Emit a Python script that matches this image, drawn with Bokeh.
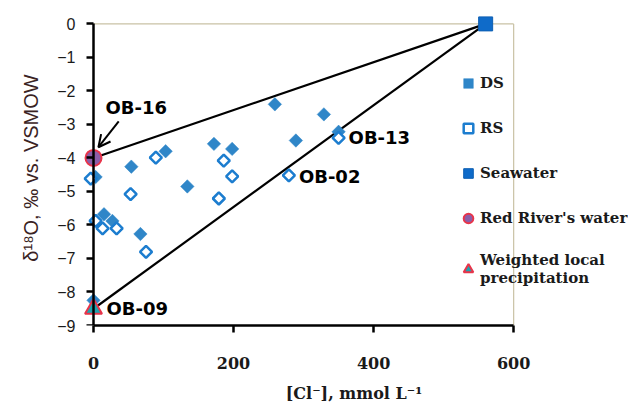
from bokeh.plotting import figure
from bokeh.models import Range1d, Legend, LegendItem, Arrow, OpenHead, Label, FixedTicker, LinearAxis
from bokeh.embed import file_html
from bokeh.resources import INLINE
import math

# ---- data ----
ds_cl = [3, 54, 103, 134, 172, 198, 259, 289, 329, 350, 15, 27, 67, 0]
ds_o18 = [-4.57, -4.26, -3.80, -4.85, -3.58, -3.73, -2.40, -3.48, -2.70, -3.22, -5.68, -5.88, -6.27, -8.25]

rs_cl = [-4, 89, 53, 3, 13, 33, 75, 186, 198, 179, 279, 350]
rs_o18 = [-4.62, -3.99, -5.08, -5.88, -6.10, -6.10, -6.80, -4.08, -4.55, -5.21, -4.52, -3.40]

sea_cl = [560]
sea_o18 = [0.0]
river_cl = [0]
river_o18 = [-4.0]
rain_cl = [0]
rain_o18 = [-8.5]

x_ticks = [0, 200, 400, 600]
y_ticks = [0, -1, -2, -3, -4, -5, -6, -7, -8, -9]

labels = ["OB-16", "OB-13", "OB-02", "OB-09"]
label_cl = [0, 350, 279, 0]
label_o18 = [-4.0, -3.3, -4.52, -8.5]

# ---- figure ----
p = figure(width=628, height=405, x_range=Range1d(-20, 764), y_range=Range1d(-9, 0.4),
           output_backend="svg", toolbar_location=None,
           min_border_left=79, min_border_right=0, min_border_top=10, min_border_bottom=78)
p.background_fill_color = "white"
p.border_fill_color = "white"
p.outline_line_color = None
p.xgrid.visible = False
p.ygrid.visible = False

for ax in (p.xaxis[0], p.yaxis[0]):
    ax.axis_line_color = "black"
    ax.axis_line_width = 2.5
    ax.major_tick_line_color = "black"
    ax.major_tick_line_width = 2.5
    ax.major_tick_out = 7
    ax.major_tick_in = 0
    ax.minor_tick_line_color = None

p.xaxis.ticker = FixedTicker(ticks=x_ticks)
p.xaxis.bounds = (min(x_ticks), max(x_ticks))

# y axis line + ticks sit at Cl = 0 (inside the frame so markers at 0 are not clipped)
yax = p.yaxis[0]
yax.ticker = FixedTicker(ticks=y_ticks)
yax.bounds = (min(y_ticks), max(y_ticks))
yax.fixed_location = 0
yax.major_label_text_font_size = "0px"
yax.major_label_text_color = None
yax.major_label_standoff = 0

# second left axis carries the tick labels and title
ylab = LinearAxis(ticker=FixedTicker(ticks=y_ticks))
ylab.axis_line_color = None
ylab.major_tick_line_color = None
ylab.minor_tick_line_color = None
ylab.major_tick_out = 0
ylab.major_tick_in = 0
ylab.major_label_text_font = "Liberation Sans"
ylab.major_label_text_font_size = "16px"
ylab.major_label_text_color = "#1a1a1a"
ylab.major_label_standoff = 4
ylab.axis_label = "\u03b4\u00b9\u2078O, \u2030 vs. VSMOW"
ylab.axis_label_text_font = "Liberation Sans"
ylab.axis_label_text_font_style = "normal"
ylab.axis_label_text_font_size = "20px"
ylab.axis_label_text_color = "#3a2323"
ylab.axis_label_standoff = 12
p.add_layout(ylab, "left")

p.xaxis.major_label_text_font = "DejaVu Serif"
p.xaxis.major_label_text_font_style = "bold"
p.xaxis.major_label_text_font_size = "16px"
p.xaxis.major_label_text_color = "#1a1a1a"
p.xaxis.major_label_standoff = 24
p.xaxis.axis_label = "[Cl\u207b], mmol L\u207b\u00b9"
p.xaxis.axis_label_text_font = "DejaVu Serif"
p.xaxis.axis_label_text_font_style = "bold"
p.xaxis.axis_label_text_font_size = "16px"
p.xaxis.axis_label_text_color = "#1a1a1a"
p.xaxis.axis_label_standoff = 12

# plot frame (top and right edges)
frame_col = "#c9c2a5"
p.line([min(x_ticks), max(x_ticks)], [max(y_ticks), max(y_ticks)], line_color=frame_col, line_width=1.2)
p.line([max(x_ticks), max(x_ticks)], [min(y_ticks), max(y_ticks)], line_color=frame_col, line_width=1.2)

# mixing lines
p.line([river_cl[0], sea_cl[0]], [river_o18[0], sea_o18[0]], line_color="black", line_width=2.2)
p.line([rain_cl[0], sea_cl[0]], [rain_o18[0], sea_o18[0]], line_color="black", line_width=2.2)

r_ds = p.scatter(ds_cl, ds_o18, marker="square", size=9.5, angle=math.pi / 4,
                 fill_color="#2f86c8", line_color="#2f86c8", line_width=0.5)
r_rs = p.scatter(rs_cl, rs_o18, marker="square", size=8.5, angle=math.pi / 4,
                 fill_color="white", line_color="#1c7dcf", line_width=2.5)
r_sea = p.scatter(sea_cl, sea_o18, marker="square", size=14,
                  fill_color="#0f6bc9", line_color="#0d5fb3", line_width=1)
r_riv = p.scatter(river_cl, river_o18, marker="circle", size=16,
                  fill_color="#8b5ea8", line_color="#e8344a", line_width=2)
r_rain = p.scatter(rain_cl, rain_o18, marker="triangle", size=17,
                   fill_color="#1fa3b0", line_color="#e8344a", line_width=2)

# labels
offsets = [(12, 50), (10, -3), (10, -1), (13, 0)]
for t, xv, yv, (dx, dy) in zip(labels, label_cl, label_o18, offsets):
    p.add_layout(Label(x=xv, y=yv, x_offset=dx, y_offset=dy, text=t,
                       text_font="DejaVu Sans", text_font_style="bold",
                       text_font_size="18px", text_color="black",
                       text_baseline="middle", text_align="left"))

p.add_layout(Arrow(end=OpenHead(size=12, line_width=2, line_color="black"),
                   x_start=36, y_start=-2.91, x_end=7, y_end=-3.68,
                   line_width=2, line_color="black"))

legend = Legend(items=[
    LegendItem(label="DS", renderers=[r_ds]),
    LegendItem(label="RS", renderers=[r_rs]),
    LegendItem(label="Seawater", renderers=[r_sea]),
    LegendItem(label="Red River's water", renderers=[r_riv]),
    LegendItem(label="Weighted local\nprecipitation", renderers=[r_rain]),
], location=(377, 38))
legend.background_fill_alpha = 0
legend.border_line_color = None
legend.padding = 0
legend.margin = 0
legend.spacing = 21
legend.glyph_width = 24
legend.glyph_height = 24
legend.label_standoff = 0
legend.label_text_font = "DejaVu Serif"
legend.label_text_font_style = "bold"
legend.label_text_font_size = "15px"
legend.label_text_line_height = 1.6
legend.label_text_color = "#1a1a1a"
p.add_layout(legend)

open("out.html", "w").write(file_html(p, INLINE))
